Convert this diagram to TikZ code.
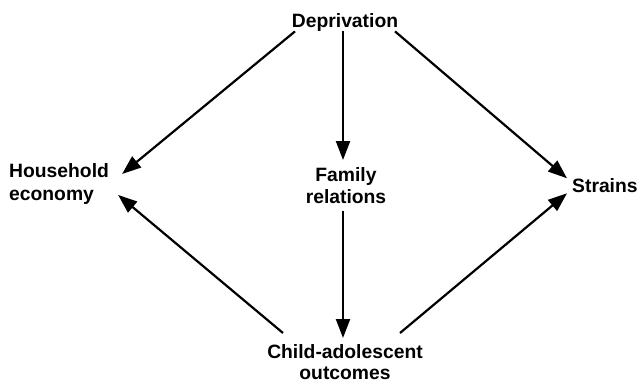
\documentclass[tikz,border=0pt]{standalone}
\usepackage{fontspec}
\setmainfont{Liberation Sans}
\usetikzlibrary{arrows.meta}
\begin{document}
\begin{tikzpicture}[x=1pt,y=-1pt,
  lbl/.style={inner sep=0pt,font=\bfseries\fontsize{19.3}{22}\selectfont},
  arr/.style={line width=2.2pt,-{Triangle[length=19pt,width=14pt]}}]
\useasboundingbox (0,0) rectangle (642,383);
\node[lbl,anchor=north] (dep) at (345,13) {Deprivation};
\node[lbl,anchor=north west,align=left,font=\bfseries\fontsize{19.3}{23.5}\selectfont] (hh) at (9,163) {Household\\economy};
\node[lbl,anchor=north,align=center] (fam) at (346,167) {Family\\relations};
\node[lbl,anchor=north west] (st) at (572,178) {Strains};
\node[lbl,anchor=north,align=center,font=\bfseries\fontsize{19.3}{21}\selectfont] (ch) at (345,344) {Child-adolescent\\outcomes};
\draw[arr] ([xshift=-50]dep.south) -- ([shift={(13,-10)}]hh.east);
\draw[arr] ([xshift=-2]dep.south) -- ([shift={(-3,-7)}]fam.north);
\draw[arr] ([xshift=50]dep.south) -- ([shift={(-5,-7)}]st.west);
\draw[arr] ([shift={(-3,7)}]fam.south) -- ([shift={(-2,-6)}]ch.north);
\draw[arr] ([shift={(-62,-11)}]ch.north) -- ([shift={(9,11)}]hh.east);
\draw[arr] ([shift={(55,-11)}]ch.north) -- ([shift={(-5,8)}]st.west);
\end{tikzpicture}
\end{document}
